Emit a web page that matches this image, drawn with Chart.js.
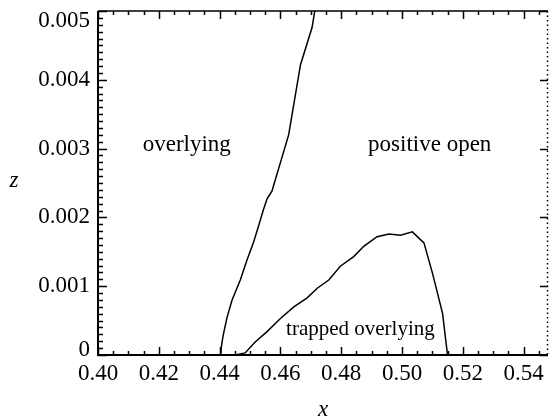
<!DOCTYPE html>
<html>
<head>
<meta charset="utf-8">
<script src="https://cdn.jsdelivr.net/npm/chart.js@4.4.0/dist/chart.umd.min.js"></script>
<style>
  body { margin: 0; background: #fff; }
  canvas { display: block; }
</style>
</head>
<body>
<canvas id="chart" width="550" height="418"></canvas>
<script>
// boundary between overlying and positive open field
const edgeX = [0.4404, 0.4405, 0.4411, 0.4424, 0.4441, 0.4468, 0.4490, 0.4511, 0.4527, 0.4544, 0.4556, 0.4572, 0.4627, 0.4666, 0.4704, 0.4713];
const edgeZ = [0, 0.00010, 0.00027, 0.00054, 0.00080, 0.00109, 0.00138, 0.00163, 0.00186, 0.00211, 0.00227, 0.00238, 0.00320, 0.00422, 0.00476, 0.00500];

// boundary of the trapped overlying region
const trapX = [0.4405, 0.4451, 0.4484, 0.4517, 0.4556, 0.4600, 0.4644, 0.4688, 0.4721, 0.4759, 0.4797, 0.4841, 0.4874, 0.4918, 0.4957, 0.4995, 0.5034, 0.5072, 0.5100, 0.5133, 0.5149, 0.5150];
const trapZ = [0, 0, 0.00003, 0.00019, 0.00034, 0.00053, 0.00070, 0.00083, 0.00097, 0.00109, 0.00129, 0.00143, 0.00158, 0.00172, 0.00176, 0.00174, 0.00179, 0.00163, 0.00119, 0.00061, 0.00002, 0];

const xTicks = [0.40, 0.42, 0.44, 0.46, 0.48, 0.50, 0.52, 0.54];
const xTickLabels = ['0.40', '0.42', '0.44', '0.46', '0.48', '0.50', '0.52', '0.54'];
const zTicks = [0, 0.001, 0.002, 0.003, 0.004, 0.005];
const zTickLabels = ['0', '0.001', '0.002', '0.003', '0.004', '0.005'];

const serif = "'Liberation Serif', 'DejaVu Serif', serif";

// region names, placed in data coordinates (baseline)
const notes = [
  { text: 'overlying', x: 0.4292, z: 0.00296, size: 23 },
  { text: 'positive open', x: 0.5091, z: 0.00296, size: 23 },
  { text: 'trapped overlying', x: 0.4863, z: 0.00029, size: 21 }
];

// inward ticks, box and labels
const frame = {
  id: 'frame',
  afterDatasetsDraw(chart) {
    const { ctx, chartArea: a, scales: { x, y } } = chart;
    ctx.save();
    ctx.strokeStyle = '#000';
    ctx.lineWidth = 1.5;
    ctx.beginPath();
    for (let i = 0; ; i++) {
      const v = 0.40 + i * 0.005;
      if (v > x.max + 1e-9) break;
      const px = Math.round(x.getPixelForValue(v)) + 0.5;
      const len = i % 4 === 0 ? 8 : 4;
      ctx.moveTo(px, a.bottom); ctx.lineTo(px, a.bottom - len);
      ctx.moveTo(px, a.top); ctx.lineTo(px, a.top + len);
    }
    for (let i = 0; i <= 50; i++) {
      const py = Math.round(y.getPixelForValue(i * 0.0001)) + 0.5;
      const major = i % 10 === 0;
      ctx.moveTo(a.left, py); ctx.lineTo(a.left + (major ? 9 : 5), py);
      if (major) { ctx.moveTo(a.right, py); ctx.lineTo(a.right - 8, py); }
    }
    ctx.stroke();

    // axes
    ctx.lineWidth = 2;
    ctx.beginPath();
    ctx.moveTo(a.left, a.top); ctx.lineTo(a.left, a.bottom); ctx.lineTo(a.right, a.bottom);
    ctx.stroke();
    ctx.lineWidth = 1.5;
    ctx.beginPath();
    ctx.moveTo(a.left, a.top); ctx.lineTo(a.right, a.top);
    ctx.stroke();
    ctx.setLineDash([1.5, 3]);
    ctx.beginPath();
    ctx.moveTo(a.right - 0.5, a.top); ctx.lineTo(a.right - 0.5, a.bottom);
    ctx.stroke();
    ctx.setLineDash([]);

    ctx.fillStyle = '#000';
    ctx.textAlign = 'center';
    ctx.textBaseline = 'alphabetic';
    notes.forEach(n => {
      ctx.font = n.size + 'px ' + serif;
      ctx.fillText(n.text, x.getPixelForValue(n.x), y.getPixelForValue(n.z));
    });

    // axis titles
    ctx.font = 'italic 23px ' + serif;
    ctx.fillText('x', (a.left + a.right) / 2, 416);
    ctx.fillText('z', 14, 187);
    ctx.restore();
  }
};

const line = (xs, zs) => ({
  data: xs.map((v, i) => ({ x: v, y: zs[i] })),
  showLine: true,
  borderColor: '#000',
  borderWidth: 1.5,
  pointRadius: 0,
  tension: 0
});

new Chart(document.getElementById('chart'), {
  type: 'scatter',
  data: { datasets: [line(edgeX, edgeZ), line(trapX, trapZ)] },
  options: {
    responsive: false,
    animation: false,
    devicePixelRatio: 1,
    layout: { padding: { top: 11, right: 2, left: 0, bottom: 0 } },
    plugins: { legend: { display: false }, tooltip: { enabled: false } },
    scales: {
      x: {
        type: 'linear',
        min: 0.40,
        max: 0.548,
        grid: { display: false, drawTicks: false },
        border: { display: false },
        afterBuildTicks: s => { s.ticks = xTicks.map(v => ({ value: v })); },
        afterFit: s => { s.height = 63; s.paddingLeft = 0; s.paddingRight = 0; },
        ticks: {
          padding: 5,
          color: '#000',
          maxRotation: 0,
          autoSkip: false,
          font: { family: serif, size: 23 },
          callback: (v, i) => xTickLabels[i]
        }
      },
      y: {
        type: 'linear',
        min: 0,
        max: 0.005,
        grid: { display: false, drawTicks: false },
        border: { display: false },
        afterBuildTicks: s => { s.ticks = zTicks.map(v => ({ value: v })); },
        afterFit: s => { s.width = 98; s.paddingTop = 0; s.paddingBottom = 0; },
        ticks: {
          padding: 8,
          color: '#000',
          autoSkip: false,
          // end labels are nudged inward like the original
          font: c => ({
            family: serif,
            size: 23,
            lineHeight: c.index === zTicks.length - 1 ? '20px' : (c.index === 0 ? '10px' : 1.2)
          }),
          callback: (v, i) => {
            if (i === zTicks.length - 1) return ['', zTickLabels[i]];
            if (i === 0) return [zTickLabels[i], ''];
            return zTickLabels[i];
          }
        }
      }
    }
  },
  plugins: [frame]
});
</script>
</body>
</html>
